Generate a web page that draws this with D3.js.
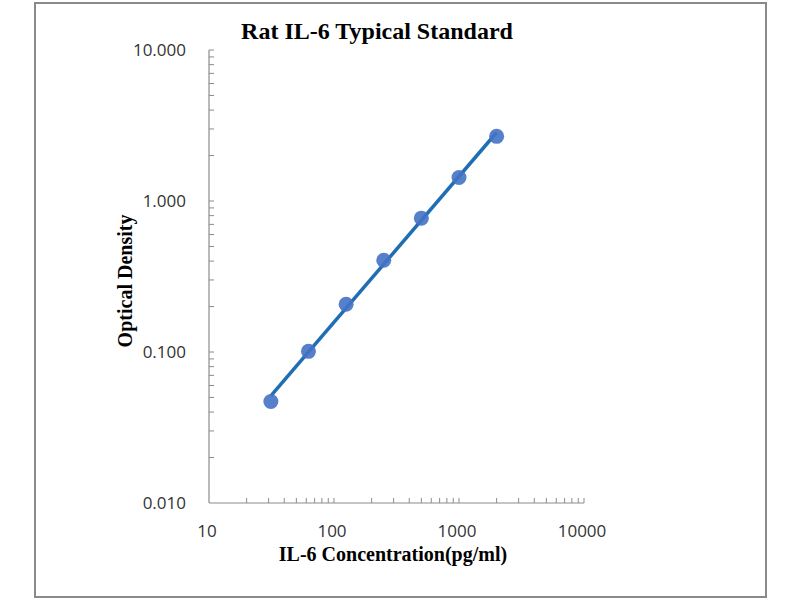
<!DOCTYPE html>
<html lang="en">
<head>
    <meta charset="UTF-8">
    <title>Rat IL-6 Typical Standard</title>
    <script src="https://cdn.jsdelivr.net/npm/d3@7"></script>
    <style>
        body { margin: 0; background: #fff; }
    </style>
</head>
<body>
<script>
    // standard curve points
    var concentration = [31.25, 62.5, 125, 250, 500, 1000, 2000];
    var od = [0.047, 0.101, 0.207, 0.405, 0.770, 1.430, 2.680];
    var xTickValues = [10, 100, 1000, 10000];
    var yTickValues = [0.01, 0.1, 1, 10];

    var w = 800, h = 600;
    var svg = d3.select("body").append("svg")
        .attr("width", w)
        .attr("height", h);

    // outer frame
    svg.append("rect")
        .attr("x", 35).attr("y", 3)
        .attr("width", 731).attr("height", 594)
        .attr("fill", "white")
        .attr("stroke", "#8a8a8a")
        .attr("stroke-width", 2);

    var x = d3.scaleLog().domain([10, 10000]).range([209, 584]);
    var y = d3.scaleLog().domain([0.01, 10]).range([503, 50]);

    // minor ticks 1..9 per decade
    var xMinor = [], yMinor = [];
    [10, 100, 1000].forEach(function (d) {
        for (var k = 1; k <= 9; k++) xMinor.push(d * k);
    });
    xMinor.push(10000);
    [0.01, 0.1, 1].forEach(function (d) {
        for (var k = 1; k <= 9; k++) yMinor.push(d * k);
    });
    yMinor.push(10);

    var axisColor = "#8c8c8c";

    svg.selectAll("line.xtick")
        .data(xMinor.filter(function (d) { return d > 10; }))
        .enter().append("line")
        .attr("class", "xtick")
        .attr("x1", function (d) { return x(d); })
        .attr("x2", function (d) { return x(d); })
        .attr("y1", y(0.01))
        .attr("y2", y(0.01) - 5)
        .attr("stroke", axisColor);

    svg.selectAll("line.ytick")
        .data(yMinor.filter(function (d) { return d > 0.01; }))
        .enter().append("line")
        .attr("class", "ytick")
        .attr("x1", x(10))
        .attr("x2", x(10) + 5)
        .attr("y1", function (d) { return y(d); })
        .attr("y2", function (d) { return y(d); })
        .attr("stroke", axisColor);

    // axis lines
    svg.append("line")
        .attr("x1", x(10)).attr("x2", x(10))
        .attr("y1", y(10)).attr("y2", y(0.01))
        .attr("stroke", axisColor).attr("stroke-width", 1.2);
    svg.append("line")
        .attr("x1", x(10)).attr("x2", x(10000))
        .attr("y1", y(0.01)).attr("y2", y(0.01))
        .attr("stroke", axisColor).attr("stroke-width", 1.2);

    // tick labels
    svg.selectAll("text.xlab")
        .data(xTickValues)
        .enter().append("text")
        .attr("class", "xlab")
        .attr("x", function (d) { return x(d) - 2; })
        .attr("y", 537)
        .attr("text-anchor", "middle")
        .attr("font-family", "'Open Sans', sans-serif")
        .attr("font-size", "17px")
        .attr("fill", "#333")
        .text(function (d) { return d; });

    svg.selectAll("text.ylab")
        .data(yTickValues)
        .enter().append("text")
        .attr("class", "ylab")
        .attr("x", 186)
        .attr("y", function (d) { return y(d) + 6; })
        .attr("text-anchor", "end")
        .attr("font-family", "'Open Sans', sans-serif")
        .attr("font-size", "17px")
        .attr("fill", "#333")
        .text(function (d) { return d3.format(".3f")(d); });

    // titles
    svg.append("text")
        .attr("x", 377).attr("y", 39)
        .attr("text-anchor", "middle")
        .attr("font-family", "'Liberation Serif', serif")
        .attr("font-weight", "bold")
        .attr("font-size", "24px")
        .text("Rat IL-6 Typical Standard");

    svg.append("text")
        .attr("x", 393).attr("y", 561)
        .attr("text-anchor", "middle")
        .attr("font-family", "'Liberation Serif', serif")
        .attr("font-weight", "bold")
        .attr("font-size", "20px")
        .text("IL-6 Concentration(pg/ml)");

    svg.append("text")
        .attr("transform", "translate(132,281) rotate(-90)")
        .attr("text-anchor", "middle")
        .attr("font-family", "'Liberation Serif', serif")
        .attr("font-weight", "bold")
        .attr("font-size", "20px")
        .text("Optical Density");

    // power trendline: least squares on log-log data
    var lx = concentration.map(Math.log10), ly = od.map(Math.log10);
    var mx = d3.mean(lx), my = d3.mean(ly);
    var b = d3.sum(lx, function (v, i) { return (v - mx) * (ly[i] - my); }) /
            d3.sum(lx, function (v) { return (v - mx) * (v - mx); });
    var a = my - b * mx;
    var ends = d3.extent(concentration);

    svg.append("path")
        .datum(ends)
        .attr("d", d3.line()
            .x(function (d) { return x(d); })
            .y(function (d) { return y(Math.pow(10, a + b * Math.log10(d))); }))
        .attr("fill", "none")
        .attr("stroke", "#1f6db3")
        .attr("stroke-width", 3.5);

    svg.selectAll("circle")
        .data(concentration)
        .enter().append("circle")
        .attr("cx", function (d) { return x(d); })
        .attr("cy", function (d, i) { return y(od[i]); })
        .attr("r", 7.5)
        .attr("fill", "#4472c4")
        .attr("fill-opacity", 0.9);
</script>
</body>
</html>
